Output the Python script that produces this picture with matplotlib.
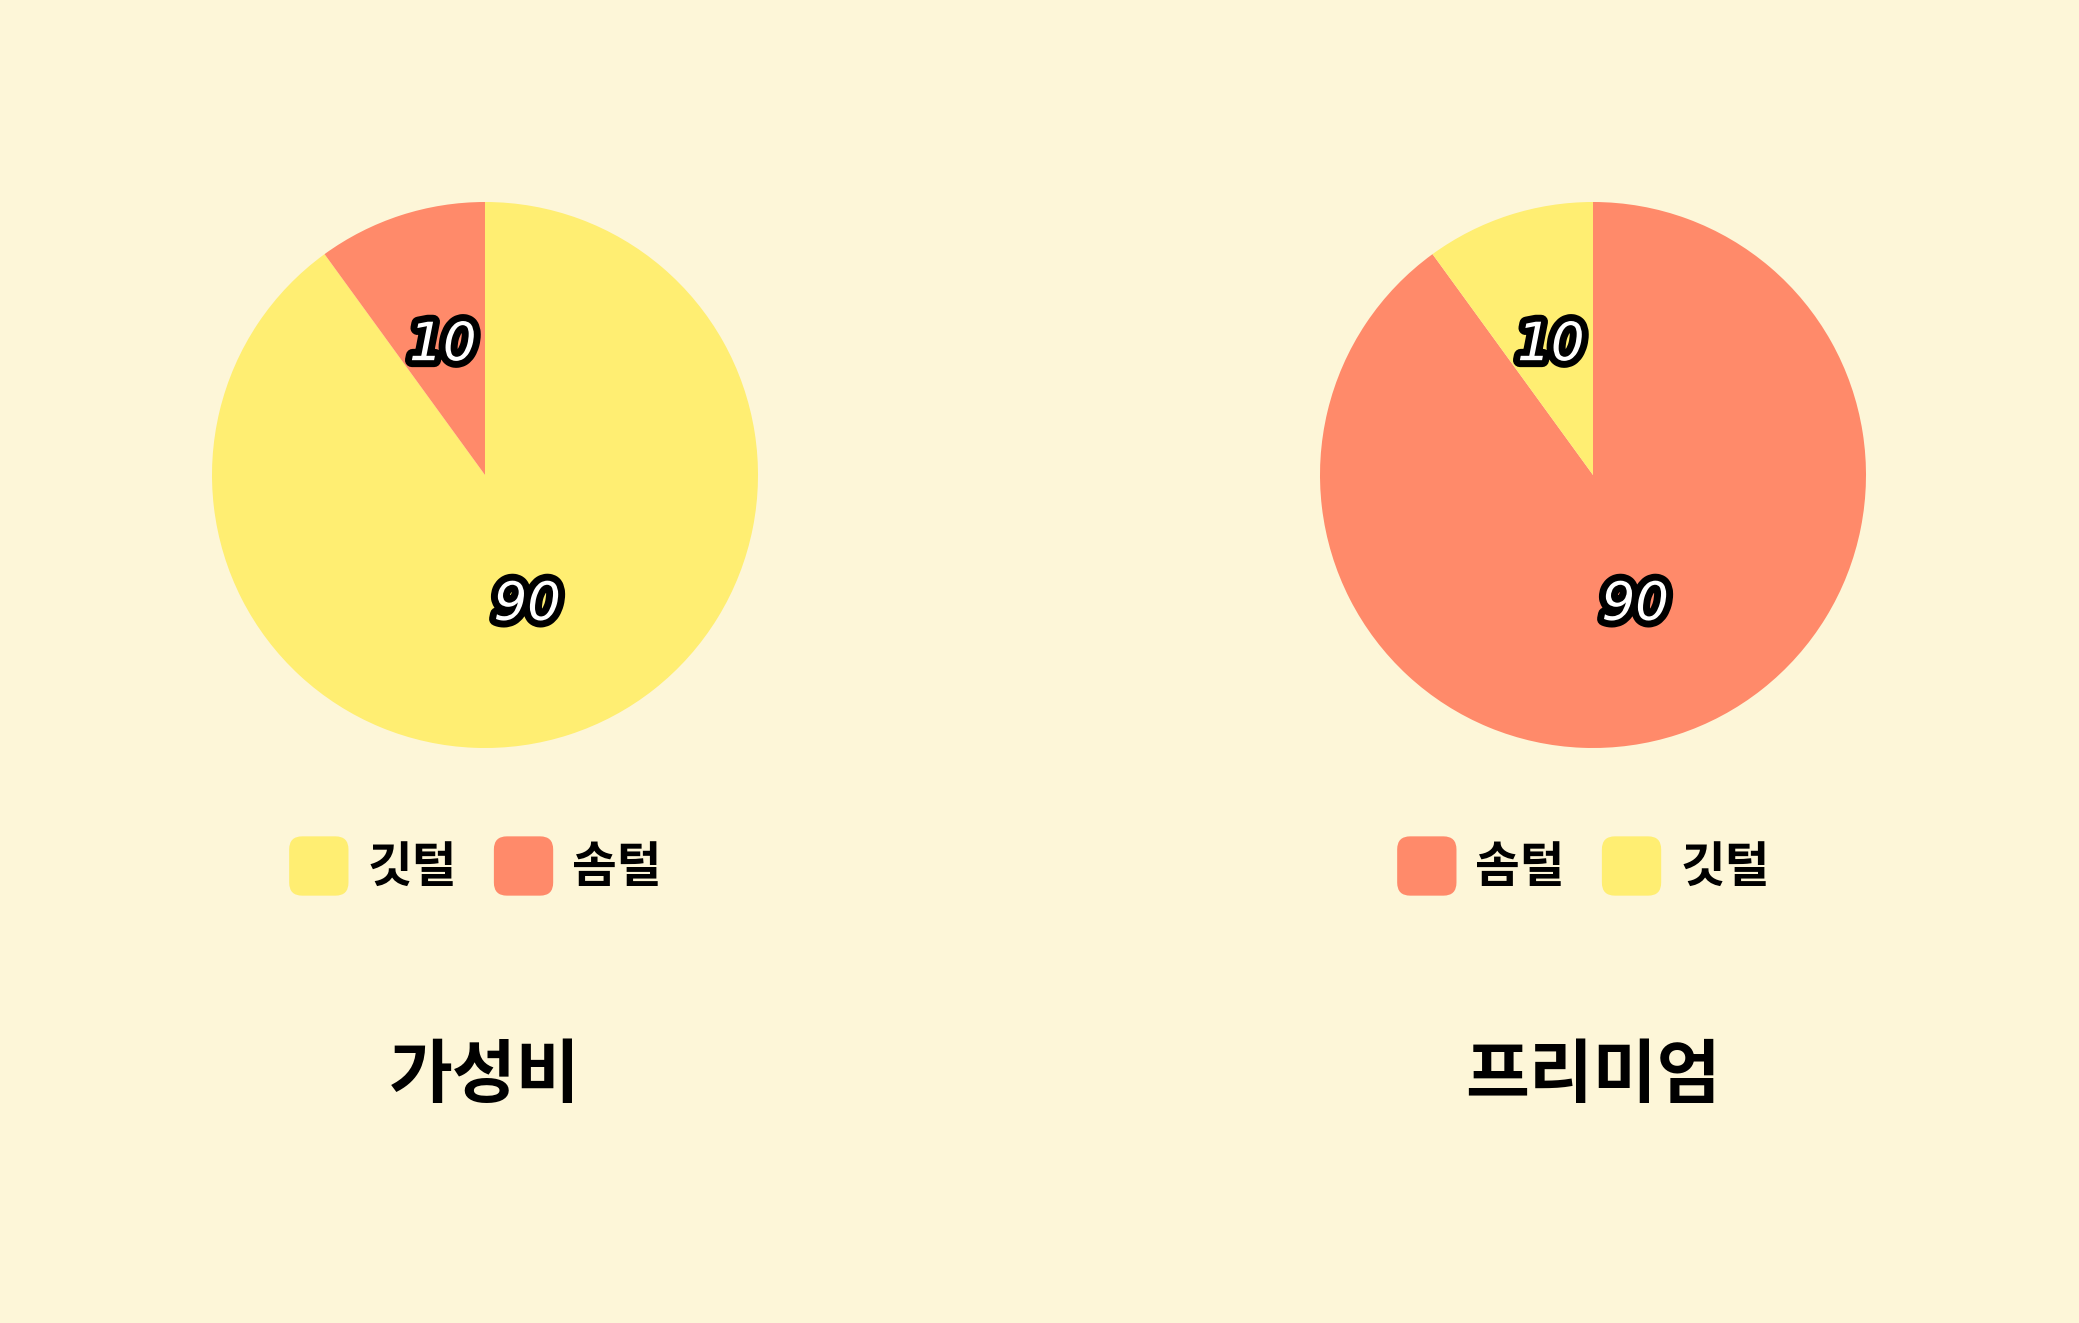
import matplotlib
matplotlib.use("Agg")
import matplotlib.pyplot as plt
import matplotlib.patheffects as pe
from matplotlib.patches import FancyBboxPatch, Patch
from matplotlib.legend_handler import HandlerPatch

plt.rcParams['font.family'] = ['Noto Sans CJK KR', 'DejaVu Sans']

# data
titles = ['가성비', '프리미엄']
left_labels = ['깃털', '솜털']
left_values = [90, 10]
right_labels = ['솜털', '깃털']
right_values = [90, 10]

YELLOW = '#FFEE72'
SALMON = '#FF8A6A'
BG = '#FDF6D8'
colors = {'깃털': YELLOW, '솜털': SALMON}


class RoundHandler(HandlerPatch):
    def create_artists(self, legend, orig_handle, xdescent, ydescent,
                       width, height, fontsize, trans):
        s = min(width, height)
        x0 = -xdescent + (width - s) / 2
        y0 = -ydescent + (height - s) / 2
        p = FancyBboxPatch((x0, y0), s, s,
                           boxstyle="round,pad=0,rounding_size=%f" % (s * 0.22),
                           facecolor=orig_handle.get_facecolor(),
                           edgecolor='none', transform=trans)
        return [p]


fig = plt.figure(figsize=(20.79, 13.23), dpi=100, facecolor=BG)

W, H = 2079, 1323
R = 273
centers_x = [485, 1593]
cy = 475

for i, (labels, values) in enumerate([(left_labels, left_values),
                                      (right_labels, right_values)]):
    cx = centers_x[i]
    ax = fig.add_axes([(cx - R) / W, 1 - (cy + R) / H, 2 * R / W, 2 * R / H])
    ax.set_facecolor(BG)
    wedges, _, autotexts = ax.pie(
        values, colors=[colors[l] for l in labels], startangle=90,
        counterclock=False, autopct=lambda p: '%d' % round(p),
        pctdistance=0.5, wedgeprops=dict(linewidth=0))
    for t in autotexts:
        t.set_fontsize(38)
        t.set_fontweight('normal')
        t.set_fontstyle('italic')
        t.set_color('white')
        t.set_family(['DejaVu Sans'])
        t.set_path_effects([pe.Stroke(linewidth=10, foreground='black'), pe.Normal()])
    ax.set_xlim(-1, 1)
    ax.set_ylim(-1, 1)
    ax.set_aspect('equal')

    handles = [Patch(facecolor=colors[l]) for l in labels]
    leg = fig.legend(handles, labels, loc='center',
                     bbox_to_anchor=((cx - 13) / W, 1 - 866 / H),
                     ncol=2, frameon=False, fontsize=35, handler_map={Patch: RoundHandler()},
                     handlelength=1.5, handleheight=1.5, handletextpad=0.25,
                     columnspacing=0.62)
    for t in leg.get_texts():
        t.set_fontweight('bold')

    fig.text(cx / W, 1 - 1077 / H, titles[i], ha='center', va='center',
             fontsize=50, fontweight='bold', color='black')

fig.savefig('out.png', dpi=100, facecolor=BG)
